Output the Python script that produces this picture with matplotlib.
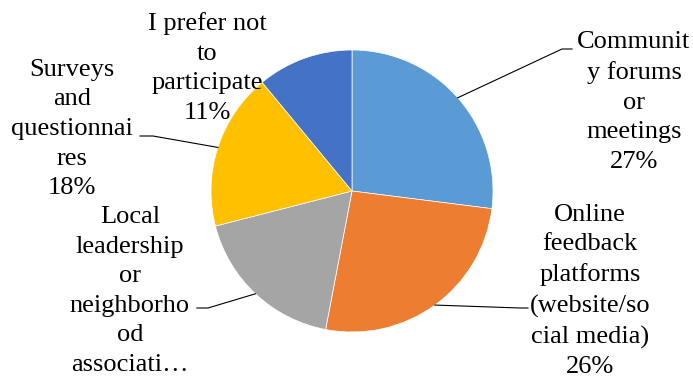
import numpy as np
import matplotlib.pyplot as plt

# survey answers, going clockwise from 12 o'clock
labels = ["Communit\ny forums\nor\nmeetings",
          "Online\nfeedback\nplatforms\n(website/so\ncial media)",
          "Local\nleadership\nor\nneighborho\nod\nassociati\u2026",
          "Surveys\nand\nquestionnai\nres",
          "I prefer not\nto\nparticipate"]
values = [27, 26, 18, 18, 11]
colors = ["#5B9BD5", "#ED7D31", "#A5A5A5", "#FFC000", "#4472C4"]
# the long local-leadership label gets cut off before its percentage
show_pct = [True, True, False, True, True]

W, H = 693, 382
fig = plt.figure(figsize=(W / 100, H / 100), dpi=100)
ax = fig.add_axes([0, 0, 1, 1])

cx, cy, r = 352, H - 191, 141
wedges, _ = ax.pie(values, colors=colors, startangle=90, counterclock=False,
                   center=(cx, cy), radius=r, frame=True,
                   wedgeprops=dict(edgecolor="white", linewidth=0.5))
ax.set_xlim(0, W)
ax.set_ylim(0, H)
ax.axis("off")

# label block centres and leader elbows (pixel coords, y down)
label_pos = [(634, 102), (590, 291), (130, 291), (72, 129), (207, 68)]
elbows = [[(562, 49), (572, 49)],
          [(520, 308), (528, 308)],
          [(208, 308), (197, 308)],
          [(153, 136), (140, 136)],
          None]

font = dict(family="Liberation Serif", size=19, color="black")
for w, lab, v, pct, (lx, ly), elb in zip(wedges, labels, values, show_pct,
                                         label_pos, elbows):
    txt = f"{lab}\n{v}%" if pct else lab
    ax.text(lx, H - ly, txt, ha="center", va="center",
            linespacing=1.45, **font)
    if elb is None:
        continue
    mid = np.deg2rad((w.theta1 + w.theta2) / 2)
    xs = [cx + r * np.cos(mid)] + [p[0] for p in elb]
    ys = [cy + r * np.sin(mid)] + [H - p[1] for p in elb]
    ax.plot(xs, ys, color="black", linewidth=0.8)

fig.savefig("out.png", dpi=100)
